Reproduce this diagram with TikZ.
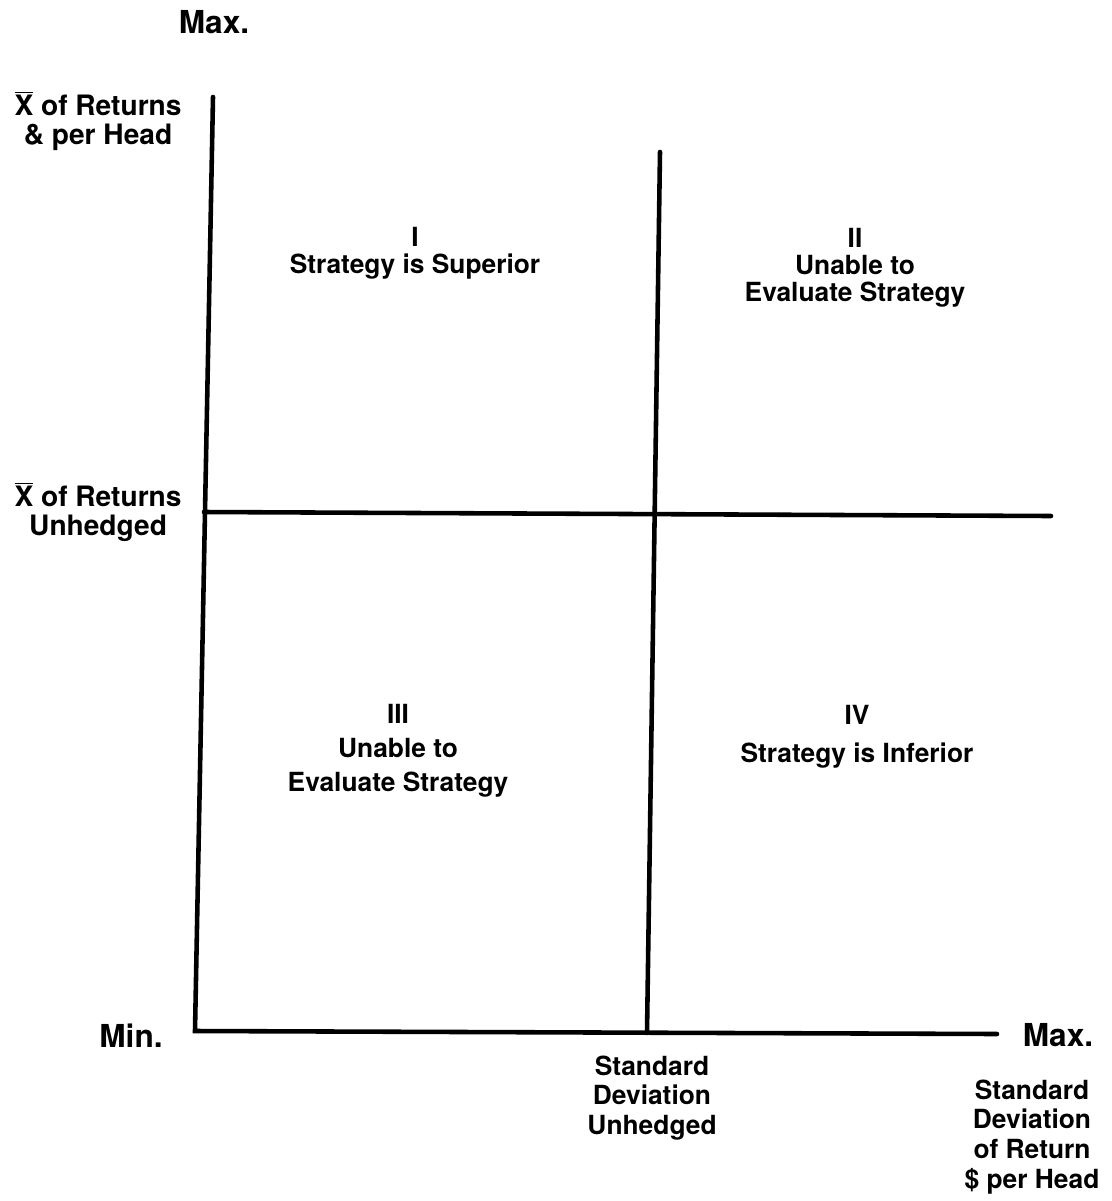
\documentclass[tikz,border=0pt]{standalone}
\usepackage{fontspec}
\setmainfont{TeX Gyre Heros}

\tikzset{
  axis/.style={line width=2.6pt, line cap=round},
  quad/.style={font=\bfseries\fontsize{15}{15.5}\selectfont, align=center, inner sep=0pt},
  axislbl/.style={font=\bfseries\fontsize{15}{17}\selectfont, align=center, inner sep=0pt},
  ylbl/.style={font=\bfseries\fontsize{16}{17}\selectfont, align=center, inner sep=0pt},
  endlbl/.style={font=\bfseries\fontsize{18}{20}\selectfont, inner sep=0pt},
}
\newcommand{\meanx}{\(\overline{\hbox{X}}\)}

\begin{document}
\begin{tikzpicture}[x=0.02cm,y=-0.02cm]
\useasboundingbox (0,0) rectangle (1112,1201);
% axes and the two dividing lines
\coordinate (ytop) at (213,97);
\coordinate (origin) at (195,1031);
\coordinate (xend) at (997,1034);
\coordinate (midleft) at (204,512);
\coordinate (midright) at (1051,516);
\coordinate (sdtop) at (660,152);
\coordinate (sdbot) at (647,1033);
\draw[axis] (ytop) -- (origin) -- (xend);
\draw[axis] (midleft) -- (midright);
\draw[axis] (sdtop) -- (sdbot);

% ends of the axes
\node[endlbl] (ymax) at (214,22) {Max.};
\node[endlbl] (xmin) at (131,1036) {Min.};
\node[endlbl] (xmax) at (1058,1035) {Max.};

% vertical axis
\node[ylbl] (ytitle) at (98,121) {\meanx\ of Returns\\\& per Head};
\node[ylbl] (ymid) at (98,512) {\meanx\ of Returns\\Unhedged};

% horizontal axis
\node[axislbl] (xmid) at (652,1098) {Standard\\Deviation\\Unhedged};
\node[axislbl] (xtitle) at (1032,1137) {Standard\\Deviation\\of Return\\\$ per Head};

% quadrants
\node[quad] (q1) at (415,253) {I\\Strategy is Superior};
\node[quad] (q2) at (855,268) {II\\Unable to\\Evaluate Strategy};
\node[quad] (q3) at (398,751) {III\\[4pt]Unable to\\[4pt]Evaluate Strategy};
\node[quad] (q4) at (857,737) {IV\\[6pt]Strategy is Inferior};
\end{tikzpicture}
\end{document}
